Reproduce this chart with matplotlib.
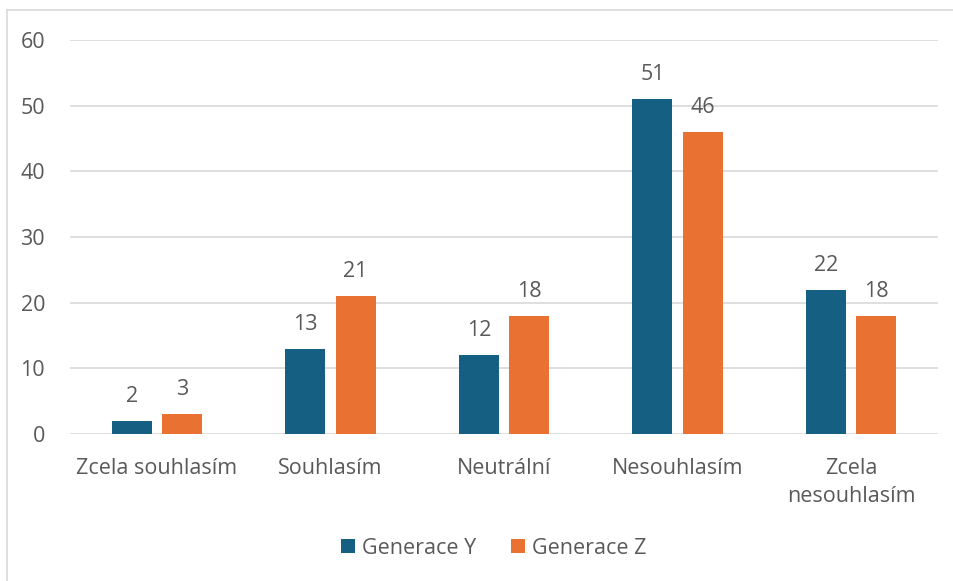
import numpy as np
import matplotlib.pyplot as plt
from matplotlib.lines import Line2D

# data
categories = ["Zcela souhlasím", "Souhlasím", "Neutrální", "Nesouhlasím", "Zcela\nnesouhlasím"]
gen_y = [2, 13, 12, 51, 22]
gen_z = [3, 21, 18, 46, 18]
series_names = ["Generace Y", "Generace Z"]
y_ticks = [0, 10, 20, 30, 40, 50, 60]

BLUE = "#156082"
ORANGE = "#E97132"
TEXT = "#595959"
GRID = "#D9D9D9"
FS = 15.5

plt.rcParams["font.family"] = ["Open Sans", "DejaVu Sans"]

fig = plt.figure(figsize=(9.54, 5.81), dpi=100)
ax = fig.add_axes([0.0734, 0.253, 0.9098, 0.678])

x = np.arange(len(categories))
w = 0.23
off = 0.145
b1 = ax.bar(x - off, gen_y, w, color=BLUE, label=series_names[0], zorder=3)
b2 = ax.bar(x + off, gen_z, w, color=ORANGE, label=series_names[1], zorder=3)

for bars in (b1, b2):
    ax.bar_label(bars, padding=10, fontsize=FS, color=TEXT)

ax.set_xlim(-0.5, len(categories) - 0.5)
ax.set_ylim(0, 60)
ax.set_yticks(y_ticks)
ax.set_xticks(x)
ax.set_xticklabels(categories, linespacing=1.45)
ax.tick_params(axis="both", length=0, labelsize=FS, labelcolor=TEXT)
ax.tick_params(axis="y", pad=18)
ax.tick_params(axis="x", pad=17)

ax.grid(axis="y", color=GRID, linewidth=1.2, zorder=0)
for s in ax.spines.values():
    s.set_visible(False)

ax.legend(loc="center", bbox_to_anchor=(0.5 - 0.012, -0.29), ncol=2, frameon=False,
          fontsize=FS, labelcolor=TEXT, handlelength=0.65, handleheight=0.65,
          handletextpad=0.35, columnspacing=1.6)

# chart border (top and left only visible)
fig.add_artist(Line2D([7 / 954, 1.0], [1 - 10 / 581, 1 - 10 / 581], color=GRID, linewidth=1.2))
fig.add_artist(Line2D([7 / 954, 7 / 954], [0, 1 - 10 / 581], color=GRID, linewidth=1.2))

fig.savefig("out.png", dpi=100)
